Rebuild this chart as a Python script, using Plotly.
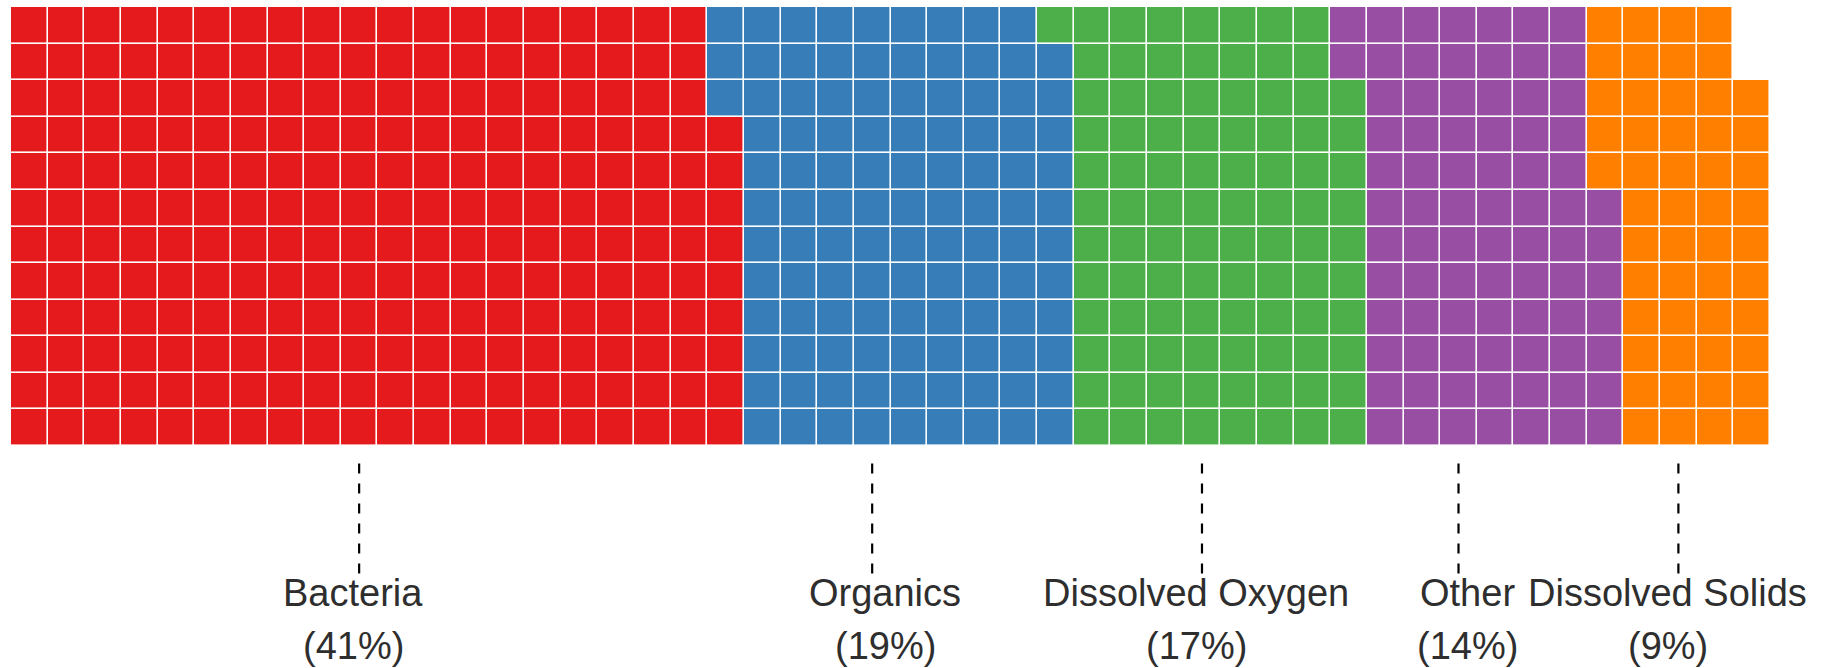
import math
import plotly.graph_objects as go

# Water-quality issue categories and number of reports in each
categories = ["Bacteria", "Organics", "Dissolved Oxygen", "Other", "Dissolved Solids"]
counts = [237, 110, 95, 81, 51]
colors = ["#E41A1C", "#377EB8", "#4DAF4A", "#984EA3", "#FF7F00"]

N_ROWS = 12
N_COLS = 48

# Horizontal nudges (column units) that keep neighbouring labels apart
text_nudge = [-0.155, 0.35, -0.155, 0.25, -0.295]

total = sum(counts)
percents = [round(100 * c / total) for c in counts]

# Fill the waffle grid column by column, bottom to top
z = [[math.nan] * N_COLS for _ in range(N_ROWS)]
first_col, last_col = [], []
k = 0
for idx, n in enumerate(counts):
    first_col.append(k // N_ROWS)
    for _ in range(n):
        col = k // N_ROWS
        row = N_ROWS - 1 - (k % N_ROWS)
        z[row][col] = idx
        k += 1
    last_col.append((k - 1) // N_ROWS)

# Leader lines sit at the middle column of each category's span
leader_x = [(a + b) // 2 for a, b in zip(first_col, last_col)]

n_cat = len(categories)
colorscale = []
for i, c in enumerate(colors):
    colorscale.append([i / n_cat, c])
    colorscale.append([(i + 1) / n_cat, c])

fig = go.Figure(
    go.Heatmap(
        z=z,
        x=list(range(N_COLS)),
        y=list(range(N_ROWS)),
        zmin=-0.5,
        zmax=n_cat - 0.5,
        colorscale=colorscale,
        showscale=False,
        xgap=1.6,
        ygap=1.6,
        hoverinfo="skip",
    )
)

LINE_TOP = 11.98
LINE_BOTTOM = 15.03
TEXT_Y1 = 15.52
TEXT_Y2 = 16.96
FONT = dict(family="Arial, Liberation Sans, sans-serif", size=38, color="#2e2e2e")

for name, pct, lx, dx in zip(categories, percents, leader_x, text_nudge):
    fig.add_shape(
        type="line",
        x0=lx, x1=lx, y0=LINE_TOP, y1=LINE_BOTTOM,
        xref="x", yref="y",
        line=dict(color="black", width=2.2, dash="10px,10px"),
    )
    fig.add_annotation(
        x=lx + dx, y=TEXT_Y1, xref="x", yref="y",
        text=name, showarrow=False, font=FONT,
        xanchor="center", yanchor="middle",
    )
    fig.add_annotation(
        x=lx + dx, y=TEXT_Y2, xref="x", yref="y",
        text=f"({pct}%)", showarrow=False, font=FONT,
        xanchor="center", yanchor="middle",
    )

fig.update_xaxes(visible=False, range=[-0.5, N_COLS - 0.5], fixedrange=True)
fig.update_yaxes(visible=False, range=[17.568, -0.5], fixedrange=True)

fig.update_layout(
    width=1835,
    height=668,
    margin=dict(l=11, r=65, t=7, b=0, pad=0),
    plot_bgcolor="white",
    paper_bgcolor="white",
    showlegend=False,
)

fig.write_html("out.html")
